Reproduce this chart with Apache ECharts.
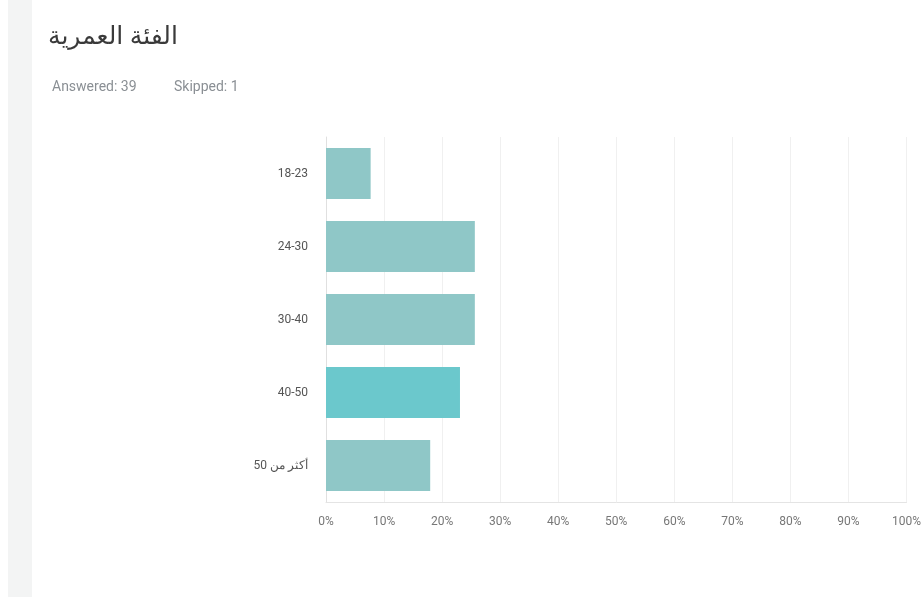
<!DOCTYPE html>
<html>
<head>
<meta charset="utf-8">
<script src="https://cdn.jsdelivr.net/npm/echarts@6/dist/echarts.min.js"></script>
<style>
  html, body { margin: 0; padding: 0; background: #fff; }
  #chart { width: 924px; height: 597px; }
</style>
</head>
<body>
<div id="chart"></div>
<script>
// الفئة العمرية - survey results
const categories = ['18-23', '24-30', '30-40', '40-50', 'أكثر من 50']
const percents = [7.69, 25.64, 25.64, 23.08, 17.95]
const xTicks = [0, 10, 20, 30, 40, 50, 60, 70, 80, 90, 100]
const highlighted = '40-50'

const myChart = echarts.init(document.getElementById('chart'))

const option = {
  backgroundColor: '#fff',
  animation: false,
  graphic: [
    // grey strip on the left
    { type: 'rect', left: 8, top: 0, shape: { width: 24, height: 597 }, style: { fill: '#f3f4f4' } },
    { type: 'text', left: 48, top: 24, style: { text: 'الفئة العمرية', font: '25px "Noto Sans", "DejaVu Sans", sans-serif', fill: '#3a3a3a' } },
    { type: 'text', left: 52, top: 80, style: { text: 'Answered: 39', font: '14px Roboto, sans-serif', fill: '#8a8f94' } },
    { type: 'text', left: 174, top: 80, style: { text: 'Skipped: 1', font: '14px Roboto, sans-serif', fill: '#8a8f94' } }
  ],
  grid: { left: 326, right: 12, top: 137, bottom: 95 },
  xAxis: {
    type: 'value',
    min: 0,
    max: 100,
    interval: 10,
    axisLine: { show: true, lineStyle: { color: '#e4e4e4' } },
    axisTick: { show: false },
    axisLabel: {
      color: '#777',
      fontSize: 12,
      fontFamily: 'Roboto, sans-serif',
      margin: 14,
      formatter: (v) => xTicks.includes(v) ? v + '%' : ''
    },
    splitLine: { show: true, lineStyle: { color: '#f0f0f0', width: 1 } }
  },
  yAxis: {
    type: 'category',
    data: categories,
    inverse: true,
    axisLine: { show: true, lineStyle: { color: '#e0e0e0' } },
    axisTick: { show: false },
    axisLabel: { color: '#555', fontSize: 12, fontFamily: 'Roboto, "Noto Sans", sans-serif', margin: 18 }
  },
  series: [
    {
      type: 'bar',
      data: percents.map((v, i) => ({
        value: v,
        itemStyle: { color: categories[i] === highlighted ? '#6bc8cc' : '#8fc7c7' }
      })),
      barCategoryGap: '30%'
    }
  ]
}

myChart.setOption(option)
</script>
</body>
</html>
